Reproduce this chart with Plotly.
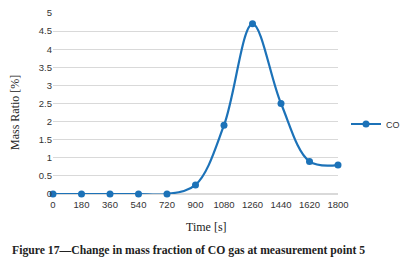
import plotly.graph_objects as go

time_s = [0, 180, 360, 540, 720, 900, 1080, 1260, 1440, 1620, 1800]
co_mass_ratio = [0, 0, 0, 0, 0, 0.25, 1.9, 4.7, 2.5, 0.9, 0.8]
x_ticks = [0, 180, 360, 540, 720, 900, 1080, 1260, 1440, 1620, 1800]
y_ticks = [0, 0.5, 1, 1.5, 2, 2.5, 3, 3.5, 4, 4.5, 5]
y_tick_labels = ["0", "0.5", "1", "1.5", "2", "2.5", "3", "3.5", "4", "4.5", "5"]

blue = "#1c72b8"
serif = "Liberation Serif, Times New Roman, serif"
sans = "Liberation Sans, Arial, sans-serif"

# page body has an 8px default margin; work in figure coordinates
OFF = 8
W, H = 410 - OFF, 267 - OFF
L, R, T, B = 53 - OFF, 338 - OFF, 13 - OFF, 194 - OFF
pw, ph = R - L, B - T


def px(x):
    return (x - OFF - L) / pw


def py(y):
    return (B - (y - OFF)) / ph


fig = go.Figure()
fig.add_trace(go.Scatter(
    x=time_s, y=co_mass_ratio, name="CO", mode="lines+markers",
    line=dict(color=blue, width=2.2, shape="spline", smoothing=1.0),
    marker=dict(color=blue, size=7),
    cliponaxis=False,
))

fig.update_layout(
    width=W, height=H,
    margin=dict(l=L, r=W - R, t=T, b=H - B, autoexpand=False),
    paper_bgcolor="white", plot_bgcolor="white",
    showlegend=True,
    legend=dict(x=px(346), y=py(124), xanchor="left", yanchor="middle",
                font=dict(family=sans, size=9, color="#333"),
                bgcolor="rgba(0,0,0,0)", itemwidth=30),
    xaxis=dict(range=[0, 1800], tickvals=x_ticks, ticktext=[str(v) for v in x_ticks],
               showgrid=False, zeroline=False, showline=False, ticks="",
               ticklabeloverflow="allow", ticklabelstandoff=3,
               tickfont=dict(family=sans, size=9.5, color="#333")),
    yaxis=dict(range=[0, 5], tickvals=y_ticks, ticktext=y_tick_labels,
               showgrid=True, gridcolor="#d9d9d9", gridwidth=1,
               zeroline=True, zerolinecolor="#d9d9d9", showline=False, ticks="",
               ticklabeloverflow="allow",
               tickfont=dict(family=sans, size=9.5, color="#333")),
    annotations=[
        dict(text="Mass Ratio [%]", xref="paper", yref="paper",
             x=px(15), y=py(113), textangle=-90, showarrow=False,
             xanchor="center", yanchor="middle",
             font=dict(family=serif, size=12, color="#222")),
        dict(text="Time [s]", xref="paper", yref="paper",
             x=px(206), y=py(227), showarrow=False,
             xanchor="center", yanchor="middle",
             font=dict(family=serif, size=12, color="#222")),
        dict(text="<b>Figure 17—Change in mass fraction of CO gas at measurement point 5</b>",
             xref="paper", yref="paper",
             x=px(10), y=py(250), showarrow=False,
             xanchor="left", yanchor="middle",
             font=dict(family=serif, size=11.7, color="#222")),
    ],
)

fig.write_html("out.html")
